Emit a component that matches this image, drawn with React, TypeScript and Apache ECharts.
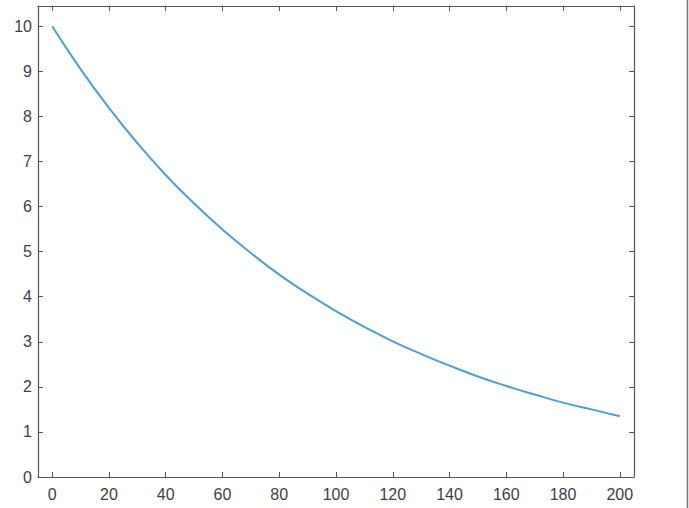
import React, { useEffect, useRef } from "react";
import * as echarts from "echarts";

const xValues = [0, 10, 20, 30, 40, 50, 60, 70, 80, 90, 100, 110, 120, 130, 140, 150, 160, 170, 180, 190, 200];
const yValues = [10, 9.05, 8.19, 7.41, 6.7, 6.07, 5.49, 4.97, 4.49, 4.07, 3.68, 3.33, 3.01, 2.73, 2.47, 2.23, 2.02, 1.83, 1.65, 1.5, 1.35];
const xTicks = [0, 20, 40, 60, 80, 100, 120, 140, 160, 180, 200];
const yTicks = [0, 1, 2, 3, 4, 5, 6, 7, 8, 9, 10];

const axisColor = "#555555";
const labelColor = "#404040";
const font = "'Liberation Sans', Arial, sans-serif";

export default function App() {
  const ref = useRef<HTMLDivElement>(null);
  useEffect(() => {
    document.body.style.margin = "0";
    const chart = echarts.init(ref.current!, null, { renderer: "svg" });
    const common = {
      type: "value" as const,
      splitLine: { show: false },
      axisLine: { show: true, onZero: false, lineStyle: { color: axisColor, width: 1.2 } },
    };
    chart.setOption({
      animation: false,
      backgroundColor: "#ffffff",
      grid: { left: 38, right: 55, top: 6, bottom: 31, containLabel: false },
      xAxis: [
        {
          ...common,
          position: "bottom",
          min: -5,
          max: 205,
          axisTick: { show: true, inside: true, length: 5, customValues: xTicks, lineStyle: { color: axisColor } },
          axisLabel: { show: true, customValues: xTicks, color: labelColor, fontSize: 16, fontFamily: font, margin: 9 },
        },
        {
          ...common,
          position: "top",
          min: -5,
          max: 205,
          axisTick: { show: true, inside: true, length: 5, customValues: xTicks, lineStyle: { color: axisColor } },
          axisLabel: { show: false },
        },
      ],
      yAxis: [
        {
          ...common,
          position: "left",
          min: 0,
          max: 10.45,
          axisTick: { show: true, inside: true, length: 5, customValues: yTicks, lineStyle: { color: axisColor } },
          axisLabel: { show: true, customValues: yTicks, color: labelColor, fontSize: 16, fontFamily: font, margin: 6 },
        },
        {
          ...common,
          position: "right",
          min: 0,
          max: 10.45,
          axisTick: { show: true, inside: true, length: 5, customValues: yTicks, lineStyle: { color: axisColor } },
          axisLabel: { show: false },
        },
      ],
      series: [
        {
          type: "line",
          data: xValues.map((x, i) => [x, yValues[i]]),
          smooth: true,
          showSymbol: false,
          lineStyle: { color: "#4f9fd1", width: 2 },
          xAxisIndex: 0,
          yAxisIndex: 0,
        },
      ],
      graphic: [
        {
          type: "line",
          shape: { x1: 687.5, y1: 0, x2: 687.5, y2: 508 },
          style: { stroke: "#777777", lineWidth: 1.5 },
        },
      ],
    });
    return () => chart.dispose();
  }, []);
  return <div ref={ref} style={{ width: 689, height: 508 }} />;
}
